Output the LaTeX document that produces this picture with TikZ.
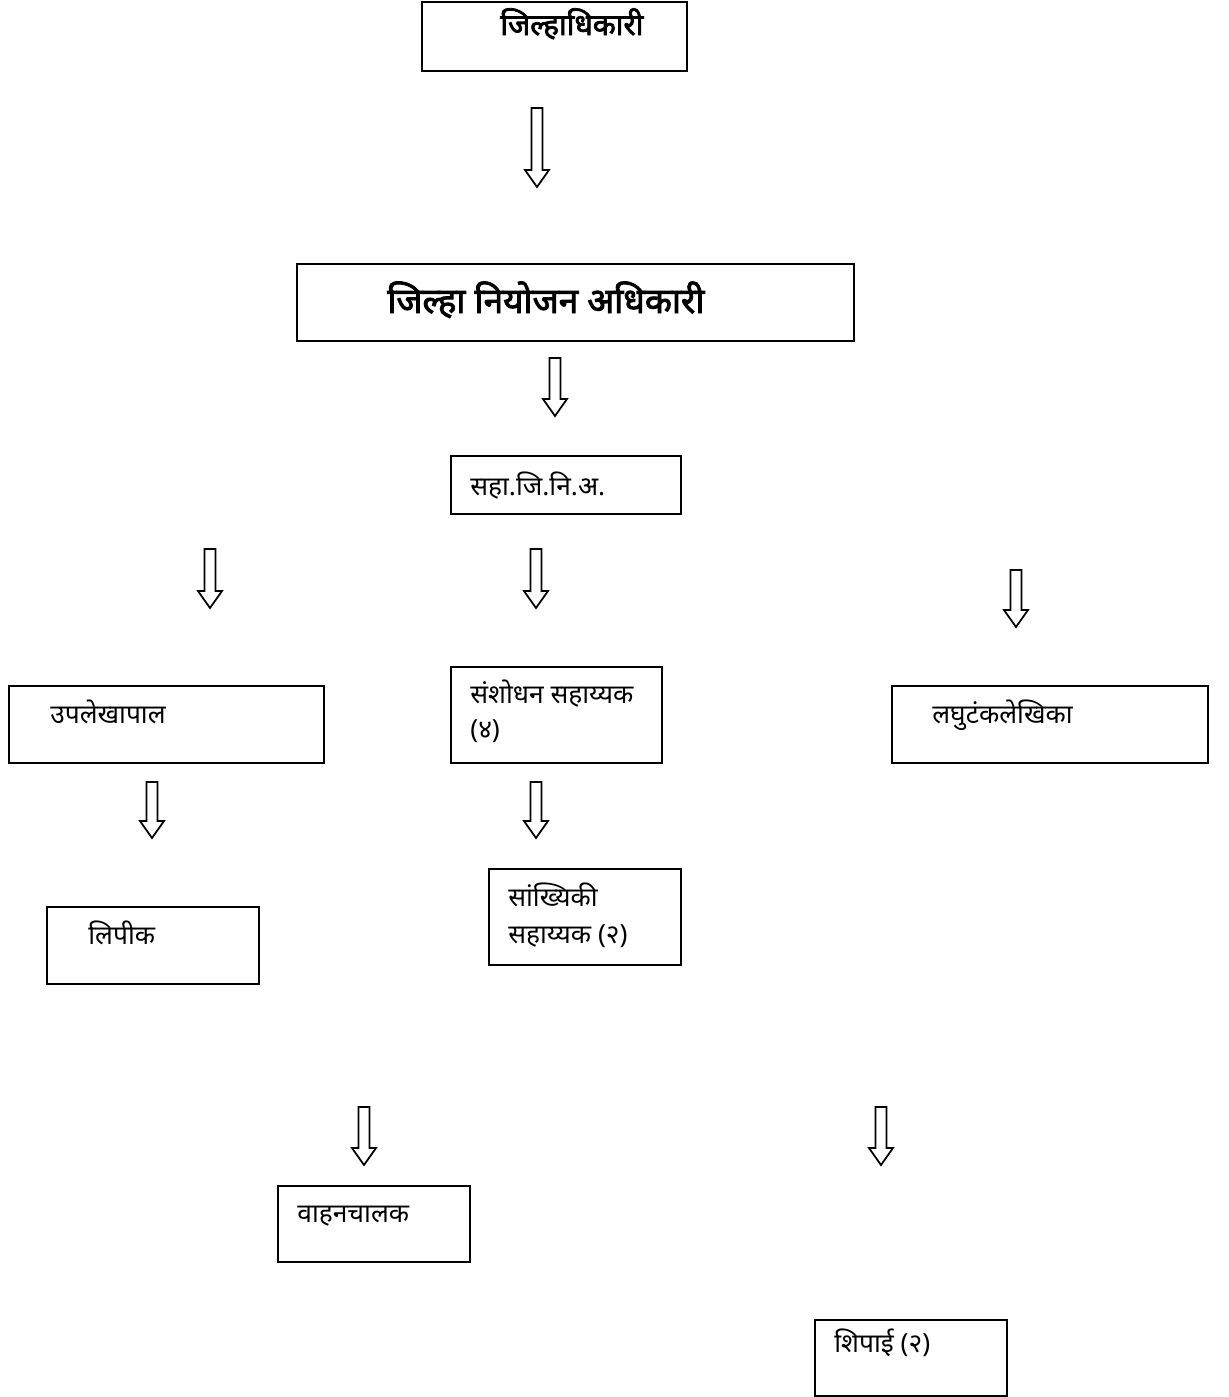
\documentclass[tikz,border=0pt]{standalone}
\usepackage{fontspec}
\setmainfont[Script=Devanagari]{Noto Sans}
\newfontfamily\headfont[Script=Devanagari, FakeBold=2.5]{Noto Sans}
\usetikzlibrary{calc, positioning}

\begin{document}
\begin{tikzpicture}[x=0.02cm, y=-0.02cm,
  box/.style={draw, line width=1.2pt, anchor=north west, inner sep=0pt},
  txt/.style={anchor=base west, inner sep=0pt, font=\fontsize{15}{18}\selectfont},
  headtxt/.style={txt, font=\headfont\fontsize{20}{24}\selectfont},
  hollowarrow/.style={draw, line width=1pt, line join=miter, fill=white}]
\useasboundingbox (0,0) rectangle (1229,1397);

% Boxes
\node[box, minimum width=5.30cm, minimum height=1.38cm] (dm)  at (421,1)    {};
\node[box, minimum width=11.14cm, minimum height=1.54cm] (dpo) at (296,263)  {};
\node[box, minimum width=4.60cm, minimum height=1.16cm] (sda) at (450,455)  {};
\node[box, minimum width=6.30cm, minimum height=1.54cm] (upl) at (8,685)    {};
\node[box, minimum width=4.22cm, minimum height=1.92cm] (sns) at (450,666)  {};
\node[box, minimum width=6.32cm, minimum height=1.54cm] (lgh) at (891,685)  {};
\node[box, minimum width=4.24cm, minimum height=1.54cm] (lpk) at (46,906)   {};
\node[box, minimum width=3.84cm, minimum height=1.92cm] (snk) at (488,868)  {};
\node[box, minimum width=3.84cm, minimum height=1.52cm] (vhn) at (277,1185) {};
\node[box, minimum width=3.84cm, minimum height=1.52cm] (shp) at (814,1319) {};

% Texts
\node[headtxt, font=\headfont\fontsize{17}{20}\selectfont] (dmt) at (500,35) {जिल्हाधिकारी};
\node[headtxt] (dpot) at (387,313) {जिल्हा नियोजन अधिकारी};
\node[txt] (sdat) at (470,495) {सहा.जि.नि.अ.};
\node[txt] (uplt) at (50,723) {उपलेखापाल};
\node[txt] (snst) at (470,703) {संशोधन सहाय्यक};
\node[txt] (snst2) at (470,738) {(४)};
\node[txt] (lght) at (932,723) {लघुटंकलेखिका};
\node[txt] (lpkt) at (88,944) {लिपीक};
\node[txt] (snkt) at (508,906) {सांख्यिकी};
\node[txt] (snkt2) at (508,943) {सहाय्यक (२)};
\node[txt] (vhnt) at (297,1222) {वाहनचालक};
\node[txt] (shpt) at (834,1352) {शिपाई (२)};

% Hollow down arrows
\foreach \ax/\atop/\atip in {537/108/187, 555/358/416, 210/549/608, 536/549/608,
    1016/570/627, 152/782/838, 536/782/838, 364/1107/1165, 881/1107/1165}
  \draw[hollowarrow] (\ax-5.5,\atop) -- (\ax+5.5,\atop) -- (\ax+5.5,\atip-17)
    -- (\ax+12,\atip-17) -- (\ax,\atip) -- (\ax-12,\atip-17) -- (\ax-5.5,\atip-17) -- cycle;
\end{tikzpicture}
\end{document}
